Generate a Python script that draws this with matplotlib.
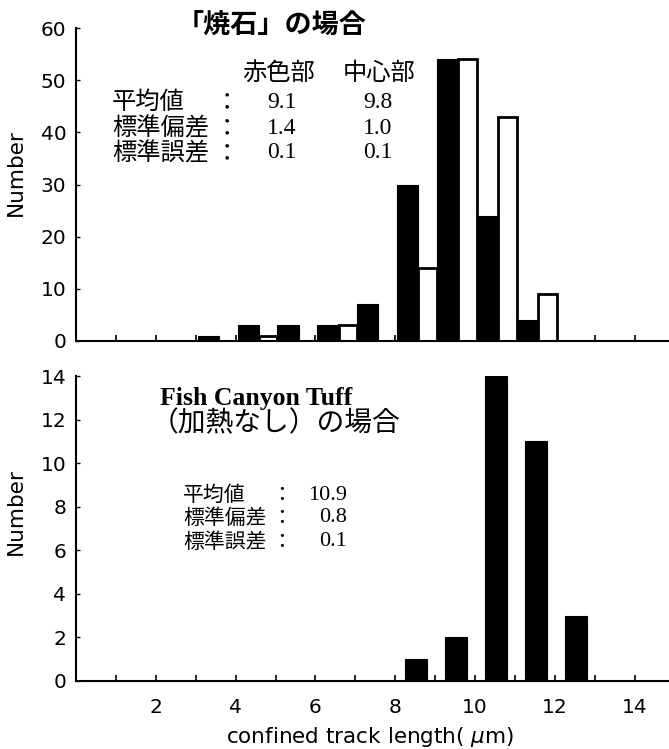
import matplotlib
matplotlib.use("Agg")
import matplotlib.pyplot as plt
import numpy as np

# ---- data ----
top_bins = np.array([3, 4, 5, 6, 7, 8, 9, 10, 11])
top_red = [1, 3, 3, 3, 7, 30, 54, 24, 4]      # 赤色部 (black)
top_center = [0, 1, 0, 3, 0, 14, 54, 43, 9]   # 中心部 (white)

bot_bins = np.array([8, 9, 10, 11, 12])
bot_counts = [1, 2, 14, 11, 3]

top_yticks = [0, 10, 20, 30, 40, 50, 60]
bot_yticks = [0, 2, 4, 6, 8, 10, 12, 14]
bot_xticks = [2, 4, 6, 8, 10, 12, 14]

top_title = "「焼石」の場合"
top_cols = ["赤色部", "中心部"]
stat_names = ["平均値", "標準偏差", "標準誤差"]
top_stats_red = ["9.1", "1.4", "0.1"]
top_stats_center = ["9.8", "1.0", "0.1"]
bot_title1 = "Fish Canyon Tuff"
bot_title2 = "（加熱なし）の場合"
bot_stats = ["10.9", "0.8", "0.1"]

W, H = 669, 749
fig = plt.figure(figsize=(W / 100, H / 100), dpi=100)

def fx(x):
    return x / W

def fy(y):
    return 1 - y / H

JP = ["Noto Sans CJK JP", "DejaVu Sans"]
SER = ["Liberation Serif", "DejaVu Serif"]
SANS = ["DejaVu Sans"]

x_px_per_unit = 39.9
x0 = 76
xmax = (W - x0) / x_px_per_unit

ax1 = fig.add_axes([fx(x0), fy(341), 1 - fx(x0), fy(28) - fy(341)])
ax2 = fig.add_axes([fx(x0), fy(681), 1 - fx(x0), fy(376) - fy(681)])

# top bars
red_mask = np.array(top_red) > 0
ax1.bar(top_bins[red_mask] + 0.05, np.array(top_red)[red_mask], width=0.53,
        align="edge", color="black", edgecolor="black", linewidth=0.8, zorder=3)
c_mask = np.array(top_center) > 0
ax1.bar(top_bins[c_mask] + 0.58, np.array(top_center)[c_mask], width=0.47,
        align="edge", color="white", edgecolor="black", linewidth=2.0, zorder=2)

# bottom bars
ax2.bar(bot_bins + 0.25, bot_counts, width=0.55, align="edge",
        color="black", edgecolor="black", linewidth=0.8, zorder=3)

for ax, yt, ymax in [(ax1, top_yticks, 60), (ax2, bot_yticks, 14)]:
    ax.set_xlim(0, xmax)
    ax.set_ylim(0, ymax)
    ax.set_yticks(yt)
    ax.set_yticklabels([str(v) for v in yt], fontfamily=SANS, fontsize=14.5)
    ax.spines["top"].set_visible(False)
    ax.spines["right"].set_visible(False)
    ax.spines["left"].set_linewidth(1.5)
    ax.spines["bottom"].set_linewidth(1.5)
    ax.spines["left"].set_zorder(5)
    ax.spines["bottom"].set_zorder(5)
    ax.set_xticks(np.arange(1, 15), minor=True)
    ax.tick_params(axis="x", which="minor", direction="in", length=4, width=1.2)
    ax.tick_params(axis="y", direction="in", length=3, width=1.0, pad=7)
    ax.patch.set_alpha(0)

ax1.set_xticks([])
ax2.set_xticks(bot_xticks)
ax2.set_xticklabels([str(v) for v in bot_xticks], fontfamily=SANS, fontsize=14.5)
ax2.tick_params(axis="x", which="major", direction="in", length=4, width=1.2, pad=12)

# axis titles
fig.text(fx(16), fy(173), "Number", fontfamily=SANS, fontsize=15.5, rotation=90,
         ha="center", va="center")
fig.text(fx(16), fy(512), "Number", fontfamily=SANS, fontsize=15.5, rotation=90,
         ha="center", va="center")
fig.text(fx(370), fy(737), "confined track length( $\\mu$m)", fontfamily=SANS,
         fontsize=15.5, ha="center", va="center")

# top annotations
fig.text(fx(272), fy(25), top_title, fontfamily=JP, fontsize=19.5, fontweight="bold",
         ha="center", va="center")
fig.text(fx(279), fy(73), top_cols[0], fontfamily=JP, fontsize=17.5, ha="center", va="center")
fig.text(fx(379), fy(73), top_cols[1], fontfamily=JP, fontsize=17.5, ha="center", va="center")
rows_top = [102, 128, 153]
for y, name, a, b in zip(rows_top, stat_names, top_stats_red, top_stats_center):
    fig.text(fx(112), fy(y), name, fontfamily=JP, fontsize=17.5, ha="left", va="center")
    fig.text(fx(227), fy(y), "：", fontfamily=JP, fontsize=17.5, ha="center", va="center")
    fig.text(fx(282), fy(y), a, fontfamily=SER, fontsize=17, ha="center", va="center")
    fig.text(fx(378), fy(y), b, fontfamily=SER, fontsize=17, ha="center", va="center")

# bottom annotations
fig.text(fx(160), fy(398), bot_title1, fontfamily=SER, fontsize=18.5, fontweight="bold",
         ha="left", va="center")
fig.text(fx(151), fy(423), bot_title2, fontfamily=JP, fontsize=20, ha="left", va="center")
rows_bot = [495, 518, 542]
for y, name, v in zip(rows_bot, stat_names, bot_stats):
    fig.text(fx(183), fy(y), name, fontfamily=JP, fontsize=15, ha="left", va="center")
    fig.text(fx(282), fy(y), "：", fontfamily=JP, fontsize=15, ha="center", va="center")
    fig.text(fx(347), fy(y), v, fontfamily=SER, fontsize=16, ha="right", va="center")

fig.savefig("out.png", dpi=100)
